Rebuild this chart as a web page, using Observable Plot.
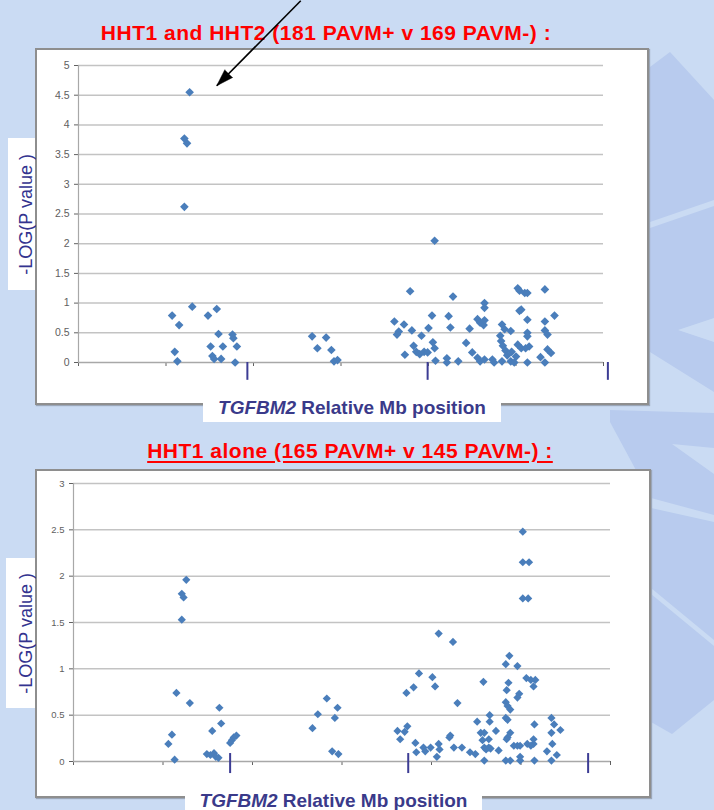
<!DOCTYPE html>
<html>
<head>
<meta charset="utf-8">
<script src="https://cdn.jsdelivr.net/npm/d3@7"></script>
<script src="https://cdn.jsdelivr.net/npm/@observablehq/plot@0.6"></script>
<style>
  html, body { margin: 0; padding: 0; }
  body { width: 714px; height: 810px; overflow: hidden; font-family: "Liberation Sans", Arial, sans-serif; }
  #page { position: relative; width: 714px; height: 810px; overflow: hidden; background: #cadbf3; }
  .abs { position: absolute; }
  .title { position: absolute; left: 0; font-weight: bold; font-size: 21px; line-height: 24px; letter-spacing: 0.5px; color: #ff0000; text-align: center; white-space: nowrap; }
  .panel { position: absolute; background: #fff; border: 2px solid #8e8e8e; box-sizing: border-box; box-shadow: 1px 1px 1px #9aa6b8; }
  .plot { position: absolute; }
  .ylab { position: absolute; background: #fff; display: flex; align-items: center; justify-content: flex-end; }
  .ylab span { writing-mode: vertical-rl; transform: rotate(180deg); font-size: 18px; line-height: 18px; color: #33338f; white-space: nowrap; }
  .xlab { position: absolute; background: #fff; display: flex; align-items: center; justify-content: center; font-weight: bold; font-size: 19px; color: #3a3a8a; white-space: nowrap; }
  .xlab i { margin-right: 5px; }
</style>
</head>
<body>
<div id="page">
  <svg class="abs" style="left:0;top:0" width="714" height="810">
    <g fill="#b8cbee">
      <polygon points="650,67 670,52 714,100 714,200 650,222"/>
      <polygon points="650,228 714,206 714,318 678,330 714,342 714,392 650,352"/>
      <polygon points="610,410 714,413 714,448 672,444 714,474 714,515 651,498 610,422"/>
      <polygon points="651,508 714,522 714,640 651,588"/>
      <polygon points="651,594 714,646 714,700 672,734 651,722"/>
    </g>
  </svg>

  <div class="title" style="top:21px;width:652px">HHT1 and HHT2 (181 PAVM+ v 169 PAVM-) :</div>
  <div class="panel" style="left:35px;top:48px;width:614px;height:357px"></div>
  <div id="plot1" class="plot" style="left:35px;top:48px"></div>
  <div class="ylab" style="left:8px;top:138px;width:27px;height:152px"><span>-LOG(P value )</span></div>
  <div class="xlab" style="left:203px;top:394px;width:298px;height:28px"><i>TGFBM2</i>Relative Mb position</div>

  <div class="title" style="top:439px;width:700px;text-decoration:underline;text-underline-offset:3px">HHT1 alone (165 PAVM+ v 145 PAVM-) :</div>
  <div class="panel" style="left:35px;top:469px;width:616px;height:329px"></div>
  <div id="plot2" class="plot" style="left:35px;top:469px"></div>
  <div class="ylab" style="left:6px;top:558px;width:29px;height:150px"><span>-LOG(P value )</span></div>
  <div class="xlab" style="left:185px;top:791px;width:297px;height:19px"><i>TGFBM2</i>Relative Mb position</div>
</div>

<script>
// ---------- data (relative Mb position in axis units 0..6, -log10 P) ----------
const hht12Pos = [
  1.27, 1.21, 1.24, 1.21, 1.30, 1.07, 1.15, 1.10, 1.13, 1.48, 1.58, 1.60, 1.51, 1.65, 1.53, 1.55, 1.63, 1.76, 1.77, 1.81, 1.79,
  2.67, 2.83, 2.73, 2.89, 2.92, 2.96,
  4.07, 3.79, 4.28, 5.02, 5.04, 5.10, 5.13, 5.33, 4.64, 4.64, 5.04, 5.06, 5.44, 4.04, 4.23, 3.61, 3.72, 3.66, 3.64, 3.81, 3.92,
  4.00, 4.25, 4.47, 4.56, 4.59, 4.63, 4.64, 5.13, 5.33, 4.84, 4.87, 4.94, 5.13, 5.13, 5.33, 5.36, 3.83, 3.86, 3.90, 3.95, 3.99,
  4.05, 4.07, 3.73, 4.08, 4.21, 4.21, 4.34, 4.43, 4.50, 4.56, 4.59, 4.64, 4.73, 4.75, 4.84, 4.94, 4.98, 5.02, 5.06, 5.11, 5.15,
  5.13, 5.28, 5.33, 5.36, 5.40, 4.82, 4.83, 4.85, 4.88, 4.90, 4.95, 5.00
];
const hht12LogP = [
  4.55, 3.77, 3.69, 2.62, 0.94, 0.79, 0.63, 0.18, 0.02, 0.79, 0.90, 0.48, 0.27, 0.27, 0.11, 0.06, 0.06, 0.47, 0.41, 0.27, 0.00,
  0.44, 0.42, 0.24, 0.21, 0.02, 0.04,
  2.05, 1.20, 1.11, 1.25, 1.21, 1.17, 1.17, 1.23, 1.00, 0.92, 0.87, 0.89, 0.79, 0.79, 0.78, 0.69, 0.64, 0.52, 0.47, 0.54, 0.45,
  0.58, 0.59, 0.57, 0.73, 0.67, 0.63, 0.71, 0.72, 0.69, 0.64, 0.56, 0.53, 0.50, 0.44, 0.54, 0.47, 0.28, 0.18, 0.14, 0.18, 0.17,
  0.34, 0.24, 0.13, 0.03, 0.07, 0.00, 0.02, 0.33, 0.17, 0.08, 0.02, 0.05, 0.05, 0.00, 0.02, 0.02, 0.00, 0.30, 0.24, 0.24, 0.27,
  0.00, 0.09, 0.00, 0.22, 0.16, 0.45, 0.36, 0.28, 0.20, 0.12, 0.18, 0.10
];
const hht1Pos = [
  1.26, 1.21, 1.23, 1.21, 1.15, 1.30, 1.10, 1.06, 1.13, 1.63, 1.65, 1.55, 1.49, 1.53, 1.57, 1.59, 1.62, 1.75, 1.77, 1.79, 1.82,
  2.67, 2.73, 2.83, 2.95, 2.92, 2.89, 2.96,
  5.02, 5.02, 5.09, 5.02, 5.08, 4.08, 4.24, 4.87, 4.83, 4.96, 3.86, 4.01, 3.80, 3.72, 4.04, 4.58, 4.86, 4.84, 5.06, 5.11, 5.16,
  5.14, 4.98, 4.96, 4.29, 4.83, 4.85, 4.88, 4.83, 4.85, 5.34, 5.37, 5.44, 5.34, 5.15, 4.65, 4.65, 4.51, 4.72, 4.55, 4.59, 4.57,
  4.64, 4.88, 4.85, 4.84, 5.14, 5.14, 5.07, 5.11, 4.96, 4.92, 4.99, 5.35, 5.29, 5.40, 3.62, 3.65, 3.70, 3.73, 4.21, 4.20, 4.25,
  4.34, 3.82, 3.83, 3.91, 3.93, 3.99, 4.08, 4.09, 4.06, 4.43, 4.49, 4.59, 4.64, 4.66, 4.61, 4.75, 4.59, 4.83, 4.88, 4.99, 4.99,
  5.15, 5.34
];
const hht1LogP = [
  1.96, 1.81, 1.77, 1.53, 0.74, 0.63, 0.29, 0.19, 0.02, 0.58, 0.41, 0.33, 0.08, 0.07, 0.09, 0.05, 0.04, 0.20, 0.23, 0.26, 0.28,
  0.36, 0.51, 0.68, 0.58, 0.47, 0.11, 0.08,
  2.48, 2.15, 2.15, 1.76, 1.76, 1.38, 1.29, 1.14, 1.05, 1.03, 0.95, 0.91, 0.80, 0.74, 0.81, 0.86, 0.85, 0.77, 0.90, 0.88, 0.88,
  0.81, 0.73, 0.69, 0.63, 0.64, 0.60, 0.56, 0.47, 0.45, 0.47, 0.40, 0.34, 0.31, 0.40, 0.50, 0.43, 0.43, 0.33, 0.31, 0.31, 0.23,
  0.24, 0.31, 0.26, 0.24, 0.24, 0.19, 0.19, 0.17, 0.17, 0.17, 0.17, 0.19, 0.11, 0.07, 0.33, 0.24, 0.32, 0.38, 0.28, 0.26, 0.15,
  0.15, 0.20, 0.10, 0.15, 0.11, 0.15, 0.19, 0.13, 0.05, 0.10, 0.08, 0.15, 0.15, 0.14, 0.13, 0.12, 0.01, 0.01, 0.01, 0.05, 0.01,
  0.01, 0.01
];
const xTicks = [0, 1, 2, 3, 4, 5, 6];
const yTicks12 = [0, 0.5, 1, 1.5, 2, 2.5, 3, 3.5, 4, 4.5, 5];
const yTicks1 = [0, 0.5, 1, 1.5, 2, 2.5, 3];
const geneMarks12 = [1.93, 3.99, 6.05];
const geneMarks1 = [1.75, 3.74, 5.75];
const arrowNote = [{x1: 2.54, y1: 6.09, x2: 1.58, y2: 4.66}];

const BLUE = "#4a7ebb";
const GRID = "#c3c3c3";
const AXIS = "#a8a8a8";
const MARK = "#3c3c94";

const rows12 = hht12Pos.map((p, i) => ({pos: p, logp: hht12LogP[i]}));
const rows1 = hht1Pos.map((p, i) => ({pos: p, logp: hht1LogP[i]}));

function manhattan({rows, width, height, margins, yTicks, yMax, fontSize, r, marks, markY, extra = []}) {
  return Plot.plot({
    width, height,
    marginLeft: margins[0], marginRight: margins[1], marginTop: margins[2], marginBottom: margins[3],
    style: {background: "transparent", overflow: "visible", fontFamily: "'Liberation Sans Narrow', 'Liberation Sans', Arial, sans-serif", fontSize: fontSize + "px", color: "#606060"},
    x: {domain: [0, 6], ticks: xTicks, tickSize: 4, tickFormat: () => "", label: null},
    y: {domain: [0, yMax], ticks: yTicks, tickSize: 4, tickPadding: 5, tickFormat: d => String(d), label: null},
    marks: [
      Plot.ruleY(yTicks.filter(d => d > 0), {stroke: GRID, strokeWidth: 1.5}),
      Plot.ruleY([0], {stroke: AXIS, strokeWidth: 1.5}),
      Plot.ruleX([0], {stroke: AXIS, strokeWidth: 1.2}),
      Plot.ruleX(marks, {x: d => d, y1: markY[0], y2: markY[1], stroke: MARK, strokeWidth: 2}),
      Plot.dot(rows, {x: "pos", y: "logp", symbol: "diamond2", r, fill: BLUE, stroke: "none"}),
      ...extra
    ]
  });
}

const plot1 = manhattan({
  rows: rows12, width: 614, height: 357, margins: [43, 46, 17, 43],
  yTicks: yTicks12, yMax: 5, fontSize: 10.5, r: 3.9,
  marks: geneMarks12, markY: [0, -0.3],
  extra: [
    Plot.link(arrowNote, {x1: "x1", y1: "y1", x2: "x2", y2: "y2", stroke: "#000", strokeWidth: 1.6}),
    Plot.vector(arrowNote, {x: "x2", y: "y2", length: 17, r: 5.5, rotate: 224.7, shape: "spike", anchor: "end", fill: "#000", stroke: "#000", strokeWidth: 0.5})
  ]
});
document.getElementById("plot1").appendChild(plot1);

const plot2 = manhattan({
  rows: rows1, width: 616, height: 329, margins: [38, 41, 14, 37],
  yTicks: yTicks1, yMax: 3, fontSize: 9.5, r: 3.7,
  marks: geneMarks1, markY: [0.086, -0.13]
});
document.getElementById("plot2").appendChild(plot2);
</script>
</body>
</html>
